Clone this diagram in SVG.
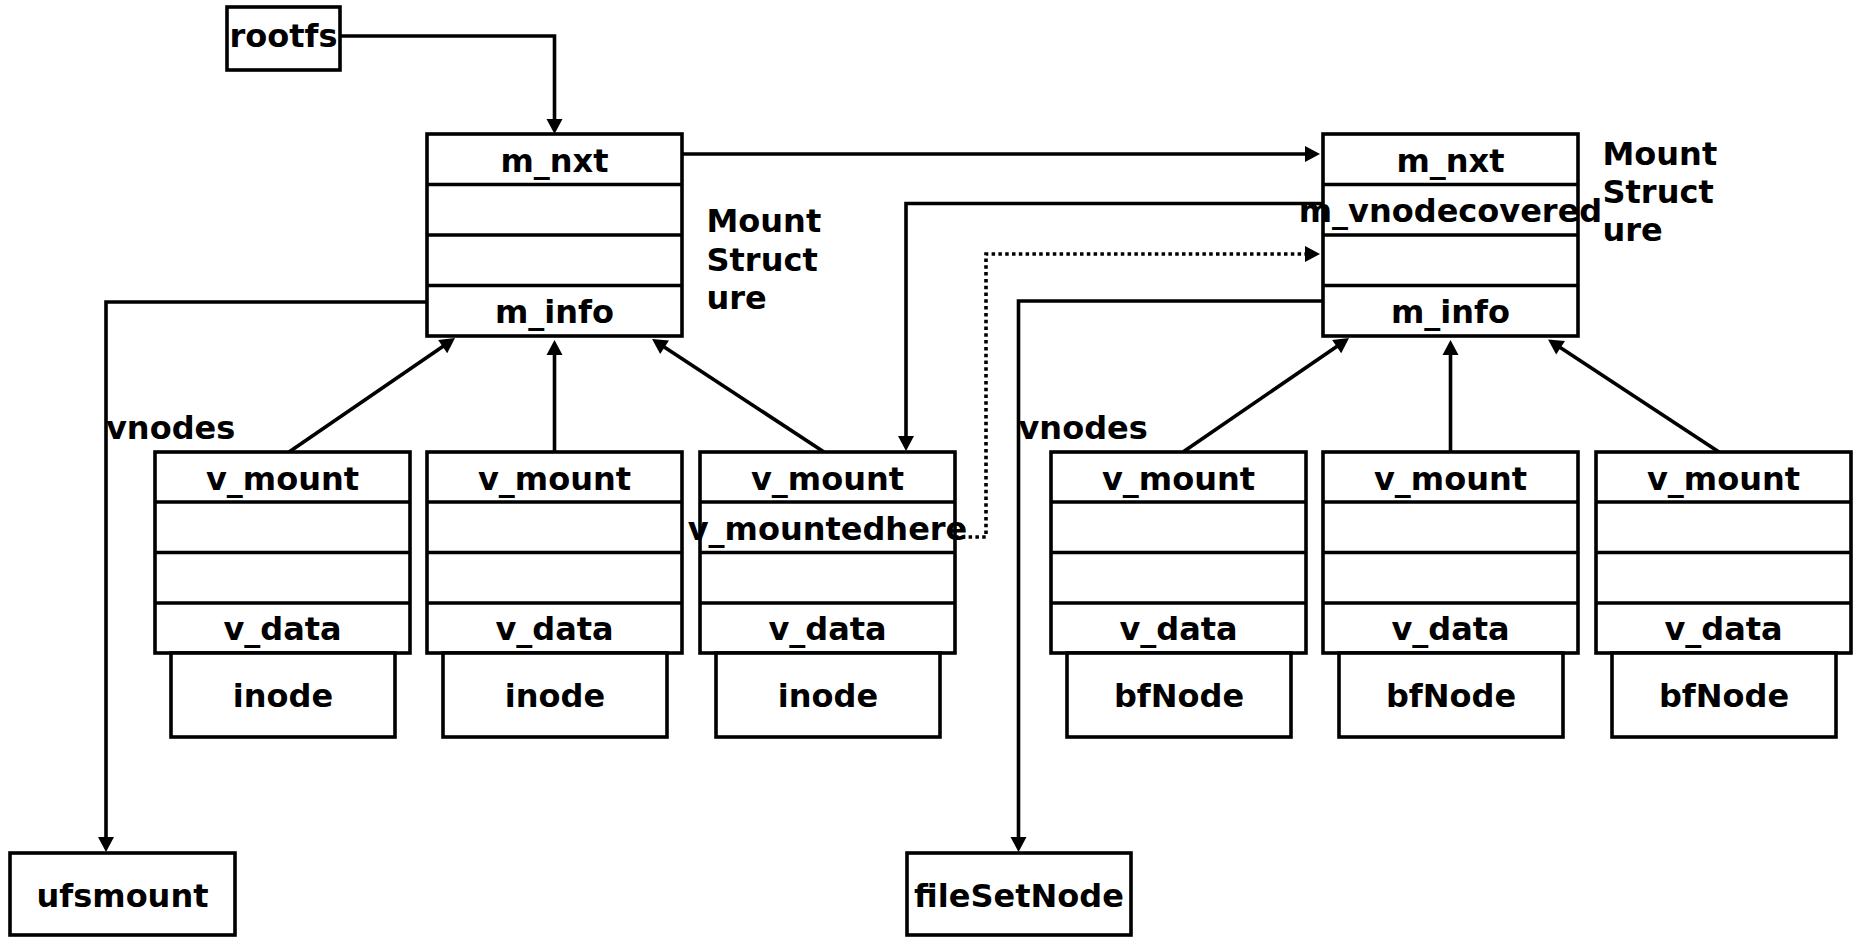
<svg xmlns="http://www.w3.org/2000/svg" width="1856" height="937" viewBox="0 0 1856 937">
<style>
.b{fill:#fff;stroke:#000;stroke-width:3.6}
.d{stroke:#000;stroke-width:3.4;fill:none}
.t{font-family:"DejaVu Sans","Liberation Sans",sans-serif;font-weight:bold;font-size:32px;fill:#000;text-anchor:middle}
.l{font-family:"DejaVu Sans","Liberation Sans",sans-serif;font-weight:bold;font-size:32px;fill:#000;text-anchor:start}
.c{fill:none;stroke:#000;stroke-width:3.6;marker-end:url(#ah)}
.dot{stroke-dasharray:3.5 3.3}
</style>
<defs>
<marker id="ah" markerUnits="userSpaceOnUse" markerWidth="16" markerHeight="16" refX="5" refY="8" orient="auto" overflow="visible">
<path d="M0,0 L15,8 L0,16 z" fill="#000"/>
</marker>
</defs>
<rect width="1856" height="937" fill="#fff"/>

<g id="connectors">
<path class="c" d="M340,36 H554.5 V124"/>
<path class="c" d="M682,154 H1310"/>
<path class="c" d="M1323,203.5 H906 V441"/>
<path class="c dot" d="M955,537 H986 V254 H1310"/>
<path class="c" d="M427,302 H106 V842"/>
<path class="c" d="M1323,301 H1018.5 V842"/>
<path class="c" d="M289,452 L446.8,343.7"/>
<path class="c" d="M554.5,452 V350"/>
<path class="c" d="M824,452 L660.4,344.5"/>
<path class="c" d="M1183,452 L1340.8,343.7"/>
<path class="c" d="M1450.5,452 V350"/>
<path class="c" d="M1719,452 L1556.4,345"/>
</g>

<g id="rootfs">
<rect class="b" x="227" y="7" width="113" height="63"/>
<text class="t" x="283.5" y="47">rootfs</text>
</g>

<g id="mount1">
<rect class="b" x="427" y="134" width="255" height="202"/>
<path class="d" d="M427,184.5 H682 M427,235 H682 M427,285.5 H682"/>
<text class="t" x="554.5" y="172">m_nxt</text>
<text class="t" x="554.5" y="323">m_info</text>
</g>

<g id="mount2">
<rect class="b" x="1323" y="134" width="255" height="202"/>
<path class="d" d="M1323,184.5 H1578 M1323,235 H1578 M1323,285.5 H1578"/>
<text class="t" x="1450.5" y="172">m_nxt</text>
<text class="t" x="1450.5" y="222">m_vnodecovered</text>
<text class="t" x="1450.5" y="323">m_info</text>
</g>

<g id="label-mount1">
<text class="l" x="706.5" y="232">Mount</text>
<text class="l" x="706.5" y="271">Struct</text>
<text class="l" x="706.5" y="309">ure</text>
</g>
<g id="label-mount2">
<text class="l" x="1602.5" y="164.5">Mount</text>
<text class="l" x="1602.5" y="203">Struct</text>
<text class="l" x="1602.5" y="241">ure</text>
</g>
<g id="label-vnodes1"><text class="l" x="106" y="439">vnodes</text></g>
<g id="label-vnodes2"><text class="l" x="1018.5" y="439">vnodes</text></g>

<g id="vnode1">
<rect class="b" x="155" y="452" width="255" height="201"/>
<path class="d" d="M155,502 H410 M155,552.5 H410 M155,603 H410"/>
<text class="t" x="282.5" y="490">v_mount</text>
<text class="t" x="282.5" y="640">v_data</text>
</g>
<g id="inode1">
<rect class="b" x="171" y="653" width="224" height="84"/>
<text class="t" x="283" y="707">inode</text>
</g>

<g id="vnode2">
<rect class="b" x="427" y="452" width="255" height="201"/>
<path class="d" d="M427,502 H682 M427,552.5 H682 M427,603 H682"/>
<text class="t" x="554.5" y="490">v_mount</text>
<text class="t" x="554.5" y="640">v_data</text>
</g>
<g id="inode2">
<rect class="b" x="443" y="653" width="224" height="84"/>
<text class="t" x="555" y="707">inode</text>
</g>

<g id="vnode3">
<rect class="b" x="700" y="452" width="255" height="201"/>
<path class="d" d="M700,502 H955 M700,552.5 H955 M700,603 H955"/>
<text class="t" x="827.5" y="490">v_mount</text>
<text class="t" x="827.5" y="540">v_mountedhere</text>
<text class="t" x="827.5" y="640">v_data</text>
</g>
<g id="inode3">
<rect class="b" x="716" y="653" width="224" height="84"/>
<text class="t" x="828" y="707">inode</text>
</g>

<g id="vnode4">
<rect class="b" x="1051" y="452" width="255" height="201"/>
<path class="d" d="M1051,502 H1306 M1051,552.5 H1306 M1051,603 H1306"/>
<text class="t" x="1178.5" y="490">v_mount</text>
<text class="t" x="1178.5" y="640">v_data</text>
</g>
<g id="bfnode1">
<rect class="b" x="1067" y="653" width="224" height="84"/>
<text class="t" x="1179" y="707">bfNode</text>
</g>

<g id="vnode5">
<rect class="b" x="1323" y="452" width="255" height="201"/>
<path class="d" d="M1323,502 H1578 M1323,552.5 H1578 M1323,603 H1578"/>
<text class="t" x="1450.5" y="490">v_mount</text>
<text class="t" x="1450.5" y="640">v_data</text>
</g>
<g id="bfnode2">
<rect class="b" x="1339" y="653" width="224" height="84"/>
<text class="t" x="1451" y="707">bfNode</text>
</g>

<g id="vnode6">
<rect class="b" x="1596" y="452" width="255" height="201"/>
<path class="d" d="M1596,502 H1851 M1596,552.5 H1851 M1596,603 H1851"/>
<text class="t" x="1723.5" y="490">v_mount</text>
<text class="t" x="1723.5" y="640">v_data</text>
</g>
<g id="bfnode3">
<rect class="b" x="1612" y="653" width="224" height="84"/>
<text class="t" x="1724" y="707">bfNode</text>
</g>

<g id="ufsmount">
<rect class="b" x="10" y="853" width="225" height="82"/>
<text class="t" x="122.5" y="907">ufsmount</text>
</g>
<g id="fileSetNode">
<rect class="b" x="907" y="853" width="224" height="82"/>
<text class="t" x="1019" y="907">fileSetNode</text>
</g>
</svg>
